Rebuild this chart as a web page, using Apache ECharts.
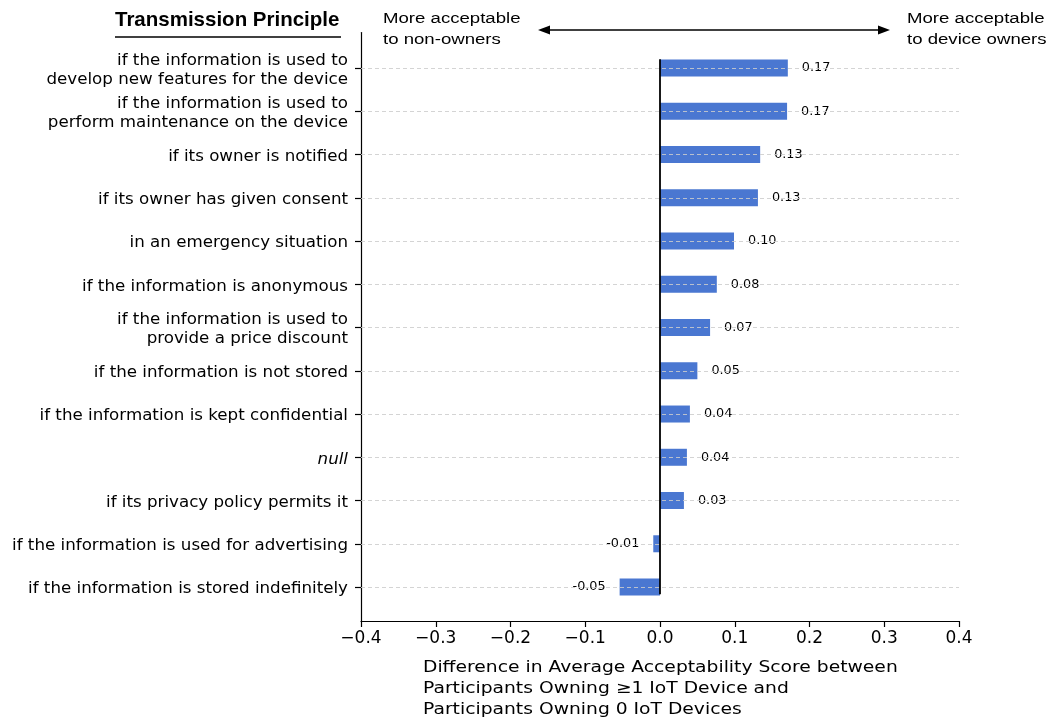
<!DOCTYPE html>
<html>
<head>
<meta charset="utf-8">
<script src="https://cdn.jsdelivr.net/npm/echarts@6/dist/echarts.min.js"></script>
<style>html,body{margin:0;padding:0;background:#fff;}#c{width:1053px;height:721px;}</style>
</head>
<body>
<div id="c"></div>
<script>
const categories = [
  'if the information is used to\ndevelop new features for the device',
  'if the information is used to\nperform maintenance on the device',
  'if its owner is notified',
  'if its owner has given consent',
  'in an emergency situation',
  'if the information is anonymous',
  'if the information is used to\nprovide a price discount',
  'if the information is not stored',
  'if the information is kept confidential',
  'null',
  'if its privacy policy permits it',
  'if the information is used for advertising',
  'if the information is stored indefinitely'
];
const values = [0.171, 0.170, 0.134, 0.131, 0.099, 0.076, 0.067, 0.050, 0.040, 0.036, 0.032, -0.009, -0.054];
const xTicks = [-0.4, -0.3, -0.2, -0.1, 0.0, 0.1, 0.2, 0.3, 0.4];
const zeroLine = [[0, -0.2], [0, 12.2]];
const axisTitle = 'Difference in Average Acceptability Score between\nParticipants Owning \u22651 IoT Device and\nParticipants Owning 0 IoT Devices';
const leftNote = 'More acceptable\nto non-owners';
const rightNote = 'More acceptable\nto device owners';
const panelTitle = 'Transmission Principle';

const FONT = 'DejaVu Sans';
const chart = echarts.init(document.getElementById('c'), null, {renderer: 'canvas'});

const barData = values.map(v => ({
  value: v,
  label: {position: v < 0 ? 'left' : 'right'}
}));

chart.setOption({
  animation: false,
  backgroundColor: '#fff',
  grid: [
    {left: 361, right: 94, top: 46.4, height: 562.25, containLabel: false, outerBoundsMode: 'none'},
    {left: 361, right: 94, top: 32.5, bottom: 100, containLabel: false, outerBoundsMode: 'none'}
  ],
  xAxis: [
    {gridIndex: 0, type: 'value', min: xTicks[0], max: xTicks[xTicks.length - 1], show: false},
    {gridIndex: 1, type: 'value', min: xTicks[0], max: xTicks[xTicks.length - 1], interval: 0.1,
      axisLine: {show: true, onZero: false, lineStyle: {color: '#000', width: 1.2}},
      axisTick: {show: true, length: 6, lineStyle: {color: '#000', width: 1.2}},
      splitLine: {show: false},
      axisLabel: {fontFamily: FONT, fontSize: 17, color: '#000', margin: 9,
        formatter: v => (v < -1e-9 ? '\u2212' : '') + Math.abs(v).toFixed(1)}
    }
  ],
  yAxis: [
    {gridIndex: 0, type: 'category', data: categories, inverse: true,
      axisLine: {show: false, onZero: false},
      axisTick: {show: true, alignWithLabel: true, length: 6, lineStyle: {color: '#000', width: 1.2}},
      splitLine: {show: false},
      axisLabel: {fontFamily: FONT, fontSize: 16.7, color: '#000', margin: 13, lineHeight: 19,
        padding: [4, 0, 0, 0],
        formatter: v => v === 'null' ? '{i|null}' : v,
        rich: {i: {fontStyle: 'italic', fontFamily: FONT, fontSize: 16.7, color: '#000'}}}
    },
    {gridIndex: 1, type: 'value', inverse: true, min: -0.82, max: 12.82,
      axisLine: {show: true, onZero: false, lineStyle: {color: '#000', width: 1.2}},
      axisTick: {show: false}, axisLabel: {show: false}, splitLine: {show: false}
    }
  ],
  series: [
    {
      type: 'bar', xAxisIndex: 0, yAxisIndex: 0, data: barData, barWidth: 17,
      itemStyle: {color: '#4a77d1'},
      label: {show: true, distance: 14, fontFamily: FONT, fontSize: 12.8, color: '#000',
        formatter: p => p.value.toFixed(2)},
      markLine: {
        silent: true, symbol: ['none', 'none'], z: 5,
        label: {show: false},
        lineStyle: {type: [4, 3], color: 'rgba(205,205,205,0.85)', width: 1},
        data: categories.map(c => ({yAxis: c}))
      }
    },
    {
      type: 'line', xAxisIndex: 1, yAxisIndex: 1, data: zeroLine, symbol: 'none', z: 6,
      lineStyle: {color: '#000', width: 1.8}
    }
  ],
  graphic: [
    {type: 'text', x: 115, y: 10, style: {text: panelTitle, font: 'bold 20.5px "Liberation Sans"', fill: '#000'}},
    {type: 'line', shape: {x1: 115, y1: 37, x2: 341, y2: 37}, style: {stroke: '#000', lineWidth: 1.5}},
    {type: 'text', x: 383, y: 8, scaleX: 1.2, style: {text: leftNote, font: '15.5px "Liberation Sans"', lineHeight: 21, fill: '#000'}},
    {type: 'text', x: 907, y: 8, scaleX: 1.2, style: {text: rightNote, font: '15.5px "Liberation Sans"', lineHeight: 21, fill: '#000'}},
    {type: 'line', shape: {x1: 545, y1: 30, x2: 883, y2: 30}, style: {stroke: '#000', lineWidth: 1.5}},
    {type: 'polygon', shape: {points: [[538, 30], [550, 25.5], [550, 34.5]]}, style: {fill: '#000'}},
    {type: 'polygon', shape: {points: [[890, 30], [878, 25.5], [878, 34.5]]}, style: {fill: '#000'}},
    {type: 'text', x: 423, y: 657, scaleX: 1.17, style: {text: axisTitle, font: '16px "DejaVu Sans"', lineHeight: 21, fill: '#000'}}
  ]
});
</script>
</body>
</html>
